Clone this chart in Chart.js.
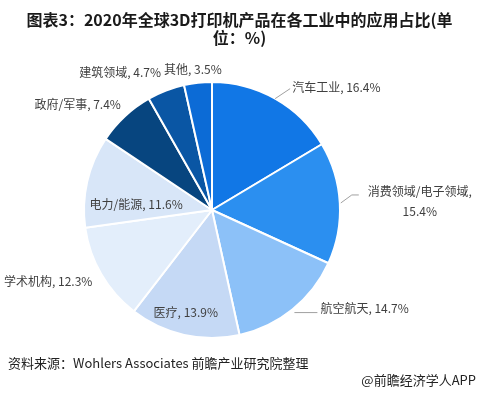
<!DOCTYPE html>
<html><head><meta charset="utf-8">
<script src="https://cdn.jsdelivr.net/npm/chart.js@4/dist/chart.umd.min.js"></script>
<style>
html,body{margin:0;padding:0;background:#fff;}
#wrap{position:relative;width:479px;height:394px;overflow:hidden;font-family:"Noto Sans CJK SC","Noto Sans",sans-serif;}
#c{position:absolute;left:0;top:0;}
#title{position:absolute;left:0;top:10px;width:479px;text-align:center;font-weight:bold;font-size:16px;line-height:18px;color:#1a1a1a;}
#source{position:absolute;left:8px;top:354px;font-size:13px;line-height:18px;color:#222;white-space:nowrap;}
#brand{position:absolute;right:3px;top:371px;font-size:13px;line-height:18px;color:#222;white-space:nowrap;}
</style></head>
<body>
<div id="wrap">
<canvas id="c" width="479" height="394"></canvas>
<div id="title">图表3：2020年全球3D打印机产品在各工业中的应用占比(单<br>位：%)</div>
<div id="source">资料来源：Wohlers Associates 前瞻产业研究院整理</div>
<div id="brand">@前瞻经济学人APP</div>
</div>
<script>
const categories = ["汽车工业","消费领域/电子领域","航空航天","医疗","学术机构","电力/能源","政府/军事","建筑领域","其他"];
const values = [16.4,15.4,14.7,13.9,12.3,11.6,7.4,4.7,3.5];
const colors = ["#1177e6","#2b8ff0","#8cc1f8","#c5d9f5","#e3eefb","#d8e6f8","#07457f","#0a56a4","#0c6bd6"];

// label placement (relative to slice geometry): k = radius factor, dx/dy offset, line = leader points relative to edge
const labelLayout = [
  {k:1, dx:17, dy:-11, align:"left", line:[[0,0],[15,-10]]},
  {k:1, dx:80, dy:-12, align:"center", wrap:true, line:[[1,0],[12,-8],[19,-8]]},
  {k:1, dx:28, dy:-1, align:"left", line:[[2,3],[25,3]]},
  {k:0.83, dx:-3, dy:-1, align:"center"},
  {k:1, dx:-9, dy:7, align:"right"},
  {k:0.6, dx:-1, dy:12, align:"center"},
  {k:1, dx:-4, dy:-12, align:"right"},
  {k:1, dx:-5, dy:-18, align:"right"},
  {k:1, dx:-5, dy:-13, align:"center"}
];

const sliceLabels = {
  id: "sliceLabels",
  afterDatasetsDraw(chart) {
    const ctx = chart.ctx;
    const meta = chart.getDatasetMeta(0);
    ctx.save();
    ctx.font = '12px "Noto Sans CJK SC", "Noto Sans", sans-serif';
    ctx.textBaseline = "middle";
    meta.data.forEach((arc, i) => {
      const p = arc.getProps(["x","y","startAngle","endAngle","outerRadius"], true);
      const mid = (p.startAngle + p.endAngle) / 2;
      const L = labelLayout[i];
      const ex = p.x + Math.cos(mid) * p.outerRadius;
      const ey = p.y + Math.sin(mid) * p.outerRadius;
      const ax = p.x + Math.cos(mid) * p.outerRadius * L.k;
      const ay = p.y + Math.sin(mid) * p.outerRadius * L.k;
      if (L.line) {
        ctx.strokeStyle = "#a0a0a0";
        ctx.lineWidth = 1;
        ctx.beginPath();
        L.line.forEach((pt, j) => {
          if (j === 0) ctx.moveTo(ex + pt[0], ey + pt[1]);
          else ctx.lineTo(ex + pt[0], ey + pt[1]);
        });
        ctx.stroke();
      }
      ctx.fillStyle = "#404040";
      ctx.textAlign = L.align;
      const tx = ax + L.dx, ty = ay + L.dy;
      if (L.wrap) {
        ctx.fillText(categories[i] + ",", tx, ty);
        ctx.fillText(values[i] + "%", tx, ty + 20);
      } else {
        ctx.fillText(categories[i] + ", " + values[i] + "%", tx, ty);
      }
    });
    ctx.restore();
  }
};

new Chart(document.getElementById("c"), {
  type: "pie",
  data: {
    labels: categories,
    datasets: [{
      data: values,
      backgroundColor: colors,
      borderColor: "#ffffff",
      borderWidth: 2
    }]
  },
  options: {
    responsive: false,
    animation: false,
    devicePixelRatio: 1,
    layout: {padding: {left: 83, top: 81, right: 138, bottom: 55}},
    plugins: {legend: {display: false}, tooltip: {enabled: false}}
  },
  plugins: [sliceLabels]
});
</script>
</body></html>
